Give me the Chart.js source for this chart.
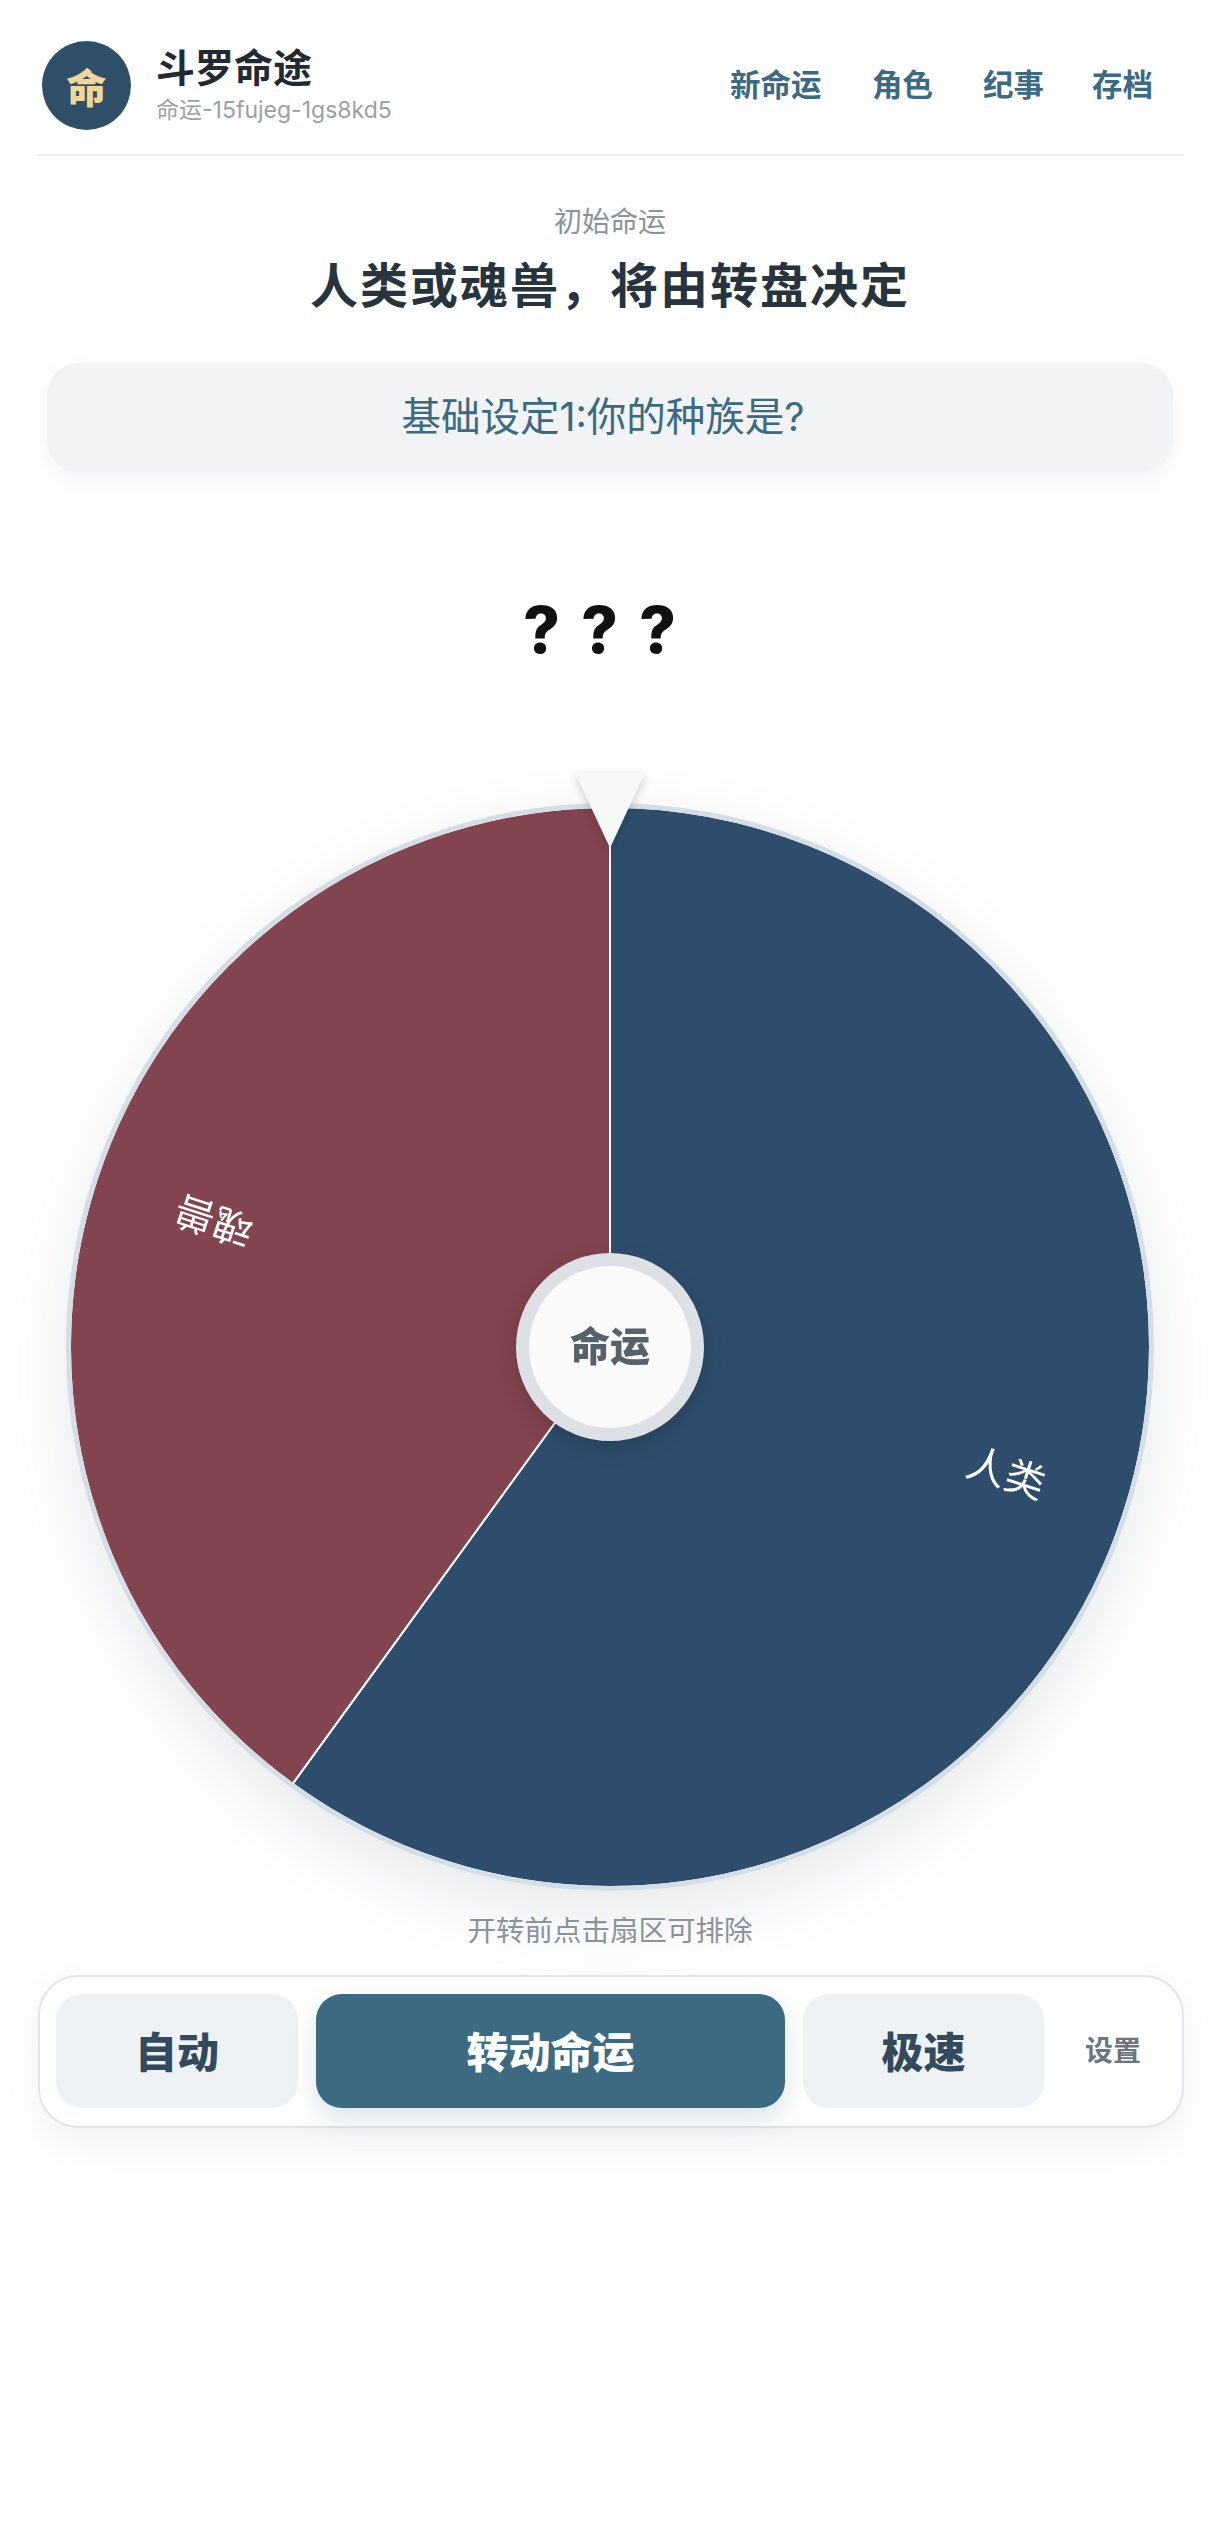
<!DOCTYPE html>
<html lang="zh">
<head>
<meta charset="utf-8">
<title>斗罗命途</title>
<script src="https://cdn.jsdelivr.net/npm/chart.js@4"></script>
<style>
html,body{margin:0;padding:0;background:#fff;width:1220px;height:2530px;overflow:hidden;font-family:Inter,"Noto Sans CJK SC",sans-serif}
.t{position:absolute;white-space:nowrap;line-height:1}
.c{left:0;width:1220px;text-align:center}
.box{position:absolute;box-sizing:border-box}
.btn{position:absolute;top:1994px;height:114px;border-radius:26px;background:#eef2f5;color:#33495c;font-size:42px;font-weight:900;display:flex;align-items:center;justify-content:center;padding-bottom:3px;box-sizing:border-box}
</style>
</head>
<body>
<div class="box" style="left:42px;top:41px;width:89px;height:89px;border-radius:50%;background:#2f4f68;color:#f0d79a;font-size:40px;font-weight:900;display:flex;align-items:center;justify-content:center">命</div>
<div class="t" style="left:156px;top:48px;font-size:39px;font-weight:700;color:#1f2a33">斗罗命途</div>
<div class="t" style="left:156px;top:99px;font-size:23px;color:#9aa0a6">命运-15fujeg-1gs8kd5</div>
<div class="t" style="left:730px;top:70px;font-size:30.5px;font-weight:700;color:#3b6a82">新命运</div>
<div class="t" style="left:872px;top:70px;font-size:30.5px;font-weight:700;color:#3b6a82">角色</div>
<div class="t" style="left:983px;top:70px;font-size:30.5px;font-weight:700;color:#3b6a82">纪事</div>
<div class="t" style="left:1092px;top:70px;font-size:30.5px;font-weight:700;color:#3b6a82">存档</div>
<div class="box" style="left:37px;top:154px;width:1147px;height:2px;background:#eef0f2"></div>

<div class="t c" style="top:208px;font-size:28px;color:#8b9299">初始命运</div>
<div class="t c" style="top:262px;font-size:48px;font-weight:700;letter-spacing:2px;color:#27343d">人类或魂兽，将由转盘决定</div>
<div class="box" style="left:47px;top:363px;width:1126px;height:109px;border-radius:32px;background:#f1f3f5;box-shadow:0 8px 24px rgba(0,0,0,.05);color:#3b6a82;font-size:39.5px;display:flex;align-items:center;justify-content:center;padding:0 14px 8px 0">基础设定1:你的种族是?</div>

<div class="t c" style="top:598px;font-size:64px;font-weight:800;color:#111;letter-spacing:21px;text-indent:0">???</div>

<div class="box" style="left:66px;top:803px;width:1088px;height:1088px;border-radius:50%;box-shadow:0 24px 70px rgba(20,40,60,.10)"></div>
<canvas id="wheel" width="1082" height="1082" style="position:absolute;left:69px;top:806px;width:1082px;height:1082px"></canvas>
<div class="box" style="left:66px;top:803px;width:1088px;height:1088px;border-radius:50%;border:5px solid #d5dee6;pointer-events:none"></div>
<div class="box" style="left:516px;top:1253px;width:188px;height:188px;border-radius:50%;background:#fafafb;border:13px solid #dde1e6;box-shadow:0 6px 20px rgba(0,0,0,.18);color:#56616c;font-size:40px;font-weight:900;display:flex;align-items:center;justify-content:center;padding-bottom:6px">命运</div>
<div style="position:absolute;left:570px;top:773px;width:80px;height:75px;filter:drop-shadow(0 3px 5px rgba(0,0,0,.18))"><div style="width:80px;height:75px;background:#f6f8f8;clip-path:polygon(5px 0,75px 0,40px 75px)"></div></div>

<div class="t c" style="top:1917px;font-size:28.5px;color:#8b9299">开转前点击扇区可排除</div>
<div class="box" style="left:38px;top:1975px;width:1146px;height:153px;border-radius:40px;background:#fff;border:2px solid #e2e6ea;box-shadow:0 14px 40px rgba(0,0,0,.06)"></div>
<div class="btn" style="left:56px;width:242px">自动</div>
<div class="btn" style="left:316px;width:469px;background:#3b6a82;color:#fff;box-shadow:0 12px 28px rgba(59,106,130,.18)">转动命运</div>
<div class="btn" style="left:803px;width:241px">极速</div>
<div class="t" style="left:1085px;top:2037px;font-size:28px;font-weight:700;color:#6b767f">设置</div>

<script>
const categories = ['人类', '魂兽'];
const shares = [60, 40];
const sliceColors = ['#2e4d6d', '#82444f'];

const sliceLabels = {
  id: 'sliceLabels',
  afterDatasetsDraw(chart) {
    const ctx = chart.ctx;
    chart.getDatasetMeta(0).data.forEach((arc, i) => {
      const mid = (arc.startAngle + arc.endAngle) / 2;
      const r = arc.outerRadius * 0.77;
      ctx.save();
      ctx.translate(arc.x + Math.cos(mid) * r, arc.y + Math.sin(mid) * r);
      ctx.rotate(mid);
      ctx.fillStyle = '#fff';
      ctx.font = '400 40px Inter, "Noto Sans CJK SC", sans-serif';
      ctx.textAlign = 'center';
      ctx.textBaseline = 'middle';
      ctx.fillText(categories[i], 0, 0);
      ctx.restore();
    });
  }
};

new Chart(document.getElementById('wheel'), {
  type: 'pie',
  data: {
    labels: categories,
    datasets: [{
      data: shares,
      backgroundColor: sliceColors,
      borderColor: '#ffffff',
      borderWidth: 2
    }]
  },
  options: {
    responsive: false,
    animation: false,
    rotation: 0,
    layout: { padding: 0 },
    plugins: { legend: { display: false }, tooltip: { enabled: false } }
  },
  plugins: [sliceLabels]
});
</script>
</body>
</html>
